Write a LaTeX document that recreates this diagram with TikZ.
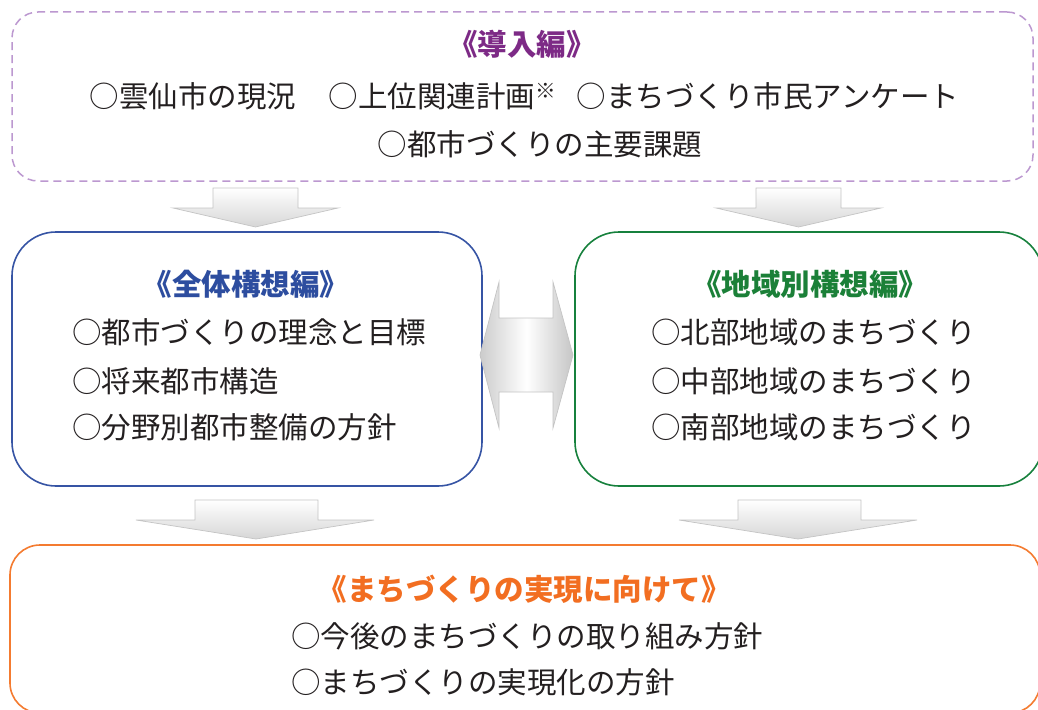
\documentclass[tikz,border=0pt]{standalone}
\usepackage{fontspec}
\setmainfont{Noto Sans CJK JP}
\usetikzlibrary{shadings}
\definecolor{txt}{HTML}{231F20}
\definecolor{purpleT}{HTML}{7D2A86}
\definecolor{purpleB}{HTML}{BC98D0}
\definecolor{blueB}{HTML}{3654A4}
\definecolor{blueT}{HTML}{2D4D9F}
\definecolor{greenB}{HTML}{17813D}
\definecolor{greenT}{HTML}{1B8038}
\definecolor{orangeB}{HTML}{F47B30}
\definecolor{orangeT}{HTML}{F26E21}
\definecolor{arrB}{HTML}{C4C4C4}
\tikzset{
  box/.style={draw, line width=1.6pt, inner sep=0pt, fill=white},
  item/.style={anchor=west, inner sep=0pt, text=txt, font=\fontsize{29.5}{34}\selectfont, text height=0.88em, text depth=0.12em, yshift=-7pt},
  itemc/.style={item, anchor=center},
  ttl/.style={inner sep=0pt, font=\fontsize{29.5}{34}\selectfont\bfseries, text height=0.88em, text depth=0.12em, yshift=-7pt},
  darr/.style={top color=white, bottom color=gray!32, draw=arrB, line width=0.7pt},
  harr/.style={left color=gray!40, right color=gray!45, middle color=white, draw=arrB, line width=0.7pt},
}
\begin{document}
\begin{tikzpicture}[x=1pt,y=-1pt]
\useasboundingbox (0,0) rectangle (1038,709);
\clip (0,0) rectangle (1038,709);
% boxes
\node[box, draw=purpleB, dash pattern=on 8pt off 5pt, line width=1.5pt, rounded corners=26pt,
      minimum width=1021pt, minimum height=169pt] (intro) at (522.5,96.5) {};
\node[box, draw=blueB, rounded corners=44pt, minimum width=470pt, minimum height=254pt] (whole) at (247,359) {};
\node[box, draw=greenB, rounded corners=44pt, minimum width=468pt, minimum height=254pt] (region) at (809,359) {};
\node[box, draw=orangeB, rounded corners=30pt, minimum width=1030pt, minimum height=168pt] (real) at (525,629) {};
% intro texts
\node[ttl, text=purpleT] (t1) at (522,45) {《導入編》};
\node[itemc] (a1) at (524.5,97) {○雲仙市の現況\hspace{1.1em}○上位関連計画\textsuperscript{※}\hspace{0.7em}○まちづくり市民アンケート};
\node[itemc] (a2) at (540,145) {○都市づくりの主要課題};
% whole
\node[ttl, text=blueT] (t2) at (246,285) {《全体構想編》};
\node[item] (b1) at (72,333) {○都市づくりの理念と目標};
\node[item] (b2) at (72,382) {○将来都市構造};
\node[item] (b3) at (72,428) {○分野別都市整備の方針};
% region
\node[ttl, text=greenT] (t3) at (810,285) {《地域別構想編》};
\node[item] (c1) at (651,333) {○北部地域のまちづくり};
\node[item] (c2) at (651,382) {○中部地域のまちづくり};
\node[item] (c3) at (651,428) {○南部地域のまちづくり};
% realization
\node[ttl, text=orangeT] (t4) at (524,590) {《まちづくりの実現に向けて》};
\node[item] (d1) at (291,637) {○今後のまちづくりの取り組み方針};
\node[item] (d2) at (291,683) {○まちづくりの実現化の方針};
% down arrows (top)
\shade[darr] (213,188) -- (298,188) -- (298,208) -- (338,208) -- (255.5,227) -- (173,208) -- (213,208) -- cycle;
\shade[darr] (756,188) -- (841,188) -- (841,208) -- (881,208) -- (798.5,227) -- (716,208) -- (756,208) -- cycle;
% down arrows (bottom)
\shade[darr] (195,500) -- (318,500) -- (318,520) -- (374,520) -- (256,539) -- (136,520) -- (195,520) -- cycle;
\shade[darr] (738,500) -- (861,500) -- (861,520) -- (917,520) -- (798,539) -- (679,520) -- (738,520) -- cycle;
% double arrow
\shade[harr] (480,355) -- (499,282) -- (499,318) -- (553,318) -- (553,282) -- (573,355) -- (553,428) -- (553,392) -- (499,392) -- (499,428) -- cycle;
\end{tikzpicture}
\end{document}
